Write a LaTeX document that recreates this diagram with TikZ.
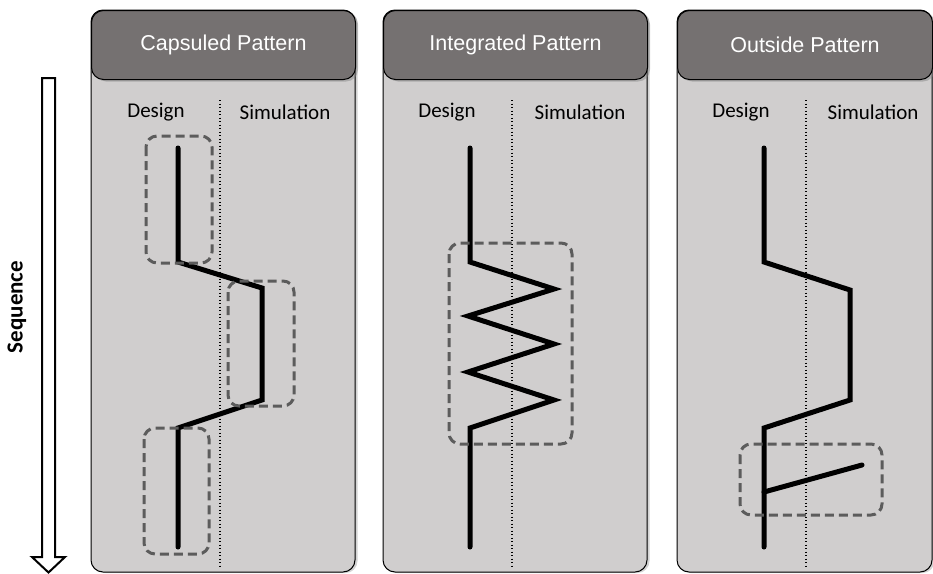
\documentclass[tikz,border=0pt]{standalone}
\usepackage{fontspec}
\setmainfont{Carlito}
\newfontfamily\headfont{Liberation Sans}
\usetikzlibrary{shadows}
\definecolor{panelgray}{RGB}{208,206,206}
\definecolor{headgray}{RGB}{117,113,113}
\definecolor{boxgray}{RGB}{92,92,92}
\tikzset{
  panelbody/.style={draw=black, line width=1pt, fill=panelgray, rounded corners=12pt,
    drop shadow={shadow xshift=2.5pt, shadow yshift=-1pt, opacity=0.35}},
  panelhead/.style={draw=black, line width=1pt, fill=headgray, rounded corners=12pt,
    drop shadow={shadow xshift=2.5pt, shadow yshift=-2pt, opacity=0.45}},
  headtext/.style={font=\headfont\fontsize{21.5}{25}\selectfont, text=white},
  coltext/.style={font=\fontsize{21}{25}\selectfont, text=black},
  divider/.style={line width=1.3pt, dash pattern=on 1.3pt off 2.2pt},
  flow/.style={line width=5pt, line cap=round},
  groupbox/.style={draw=boxgray, line width=3pt, dash pattern=on 9pt off 5pt, rounded corners=11pt},
  seqarrow/.style={draw=black, line width=2pt, fill=white},
}
\begin{document}
\begin{tikzpicture}[x=1pt,y=-1pt]
\useasboundingbox (0,0) rectangle (933,573);

% ---------- panels ----------
\foreach \l/\r/\t/\n in {91/355/Capsuled Pattern/p1, 383/647/Integrated Pattern/p2, 677/932/Outside Pattern/p3}{
  \path[panelbody] (\l,10) rectangle (\r,572);
  \node[panelhead, minimum width=\r pt-\l pt, minimum height=69pt, inner sep=0pt,
        anchor=north west] (\n head) at (\l,10) {};
  \node[headtext] (\n title) at (\n head.center) {\t};
}

% column captions and dividers
\foreach \d/\s/\x/\n in {156/285/220/p1, 447/580/512/p2, 741/873/806/p3}{
  \node[coltext] (\n design) at (\d,112) {Design};
  \node[coltext] (\n sim) at (\s,112) {Simulation};
  \coordinate (\n dtop) at (\x,100);
  \coordinate (\n dbot) at (\x,567);
  \draw[divider] (\n dtop) -- (\n dbot);
}

% ---------- capsuled pattern ----------
\coordinate (a1) at (178,148);
\coordinate (a2) at (178,262);
\coordinate (a3) at (262,288);
\coordinate (a4) at (262,400);
\coordinate (a5) at (178,428);
\coordinate (a6) at (178,547);
\draw[flow] (a1) -- (a2) -- (a3) -- (a4) -- (a5) -- (a6);
\draw[groupbox] (146,136) rectangle (212,263);
\draw[groupbox] (228,281) rectangle (294,406);
\draw[groupbox] (144,428) rectangle (209,554);

% ---------- integrated pattern ----------
\coordinate (b1) at (470,148);
\coordinate (b2) at (470,262);
\coordinate (b3) at (554,289);
\coordinate (b4) at (468,316);
\coordinate (b5) at (554,344);
\coordinate (b6) at (468,372);
\coordinate (b7) at (554,400);
\coordinate (b8) at (470,428);
\coordinate (b9) at (470,547);
\draw[flow] (b1) -- (b2) -- (b3) -- (b4) -- (b5) -- (b6) -- (b7) -- (b8) -- (b9);
\draw[groupbox] (449,243) rectangle (572,444);

% ---------- outside pattern ----------
\coordinate (c1) at (764,148);
\coordinate (c2) at (764,262);
\coordinate (c3) at (850,290);
\coordinate (c4) at (850,400);
\coordinate (c5) at (764,428);
\coordinate (c6) at (764,547);
\coordinate (c7) at (764,492);
\coordinate (c8) at (862,465);
\draw[flow] (c1) -- (c2) -- (c3) -- (c4) -- (c5) -- (c6);
\draw[flow] (c7) -- (c8);
\draw[groupbox] (740,444) rectangle (882,515);

% ---------- sequence arrow ----------
\draw[seqarrow] (42,78) -- (55,78) -- (55,557) -- (65,557) -- (48.5,572.5)
  -- (32,557) -- (42,557) -- cycle;
\node[font=\bfseries\fontsize{23}{27}\selectfont, rotate=90] (seq) at (17,307) {Sequence};
\end{tikzpicture}
\end{document}
